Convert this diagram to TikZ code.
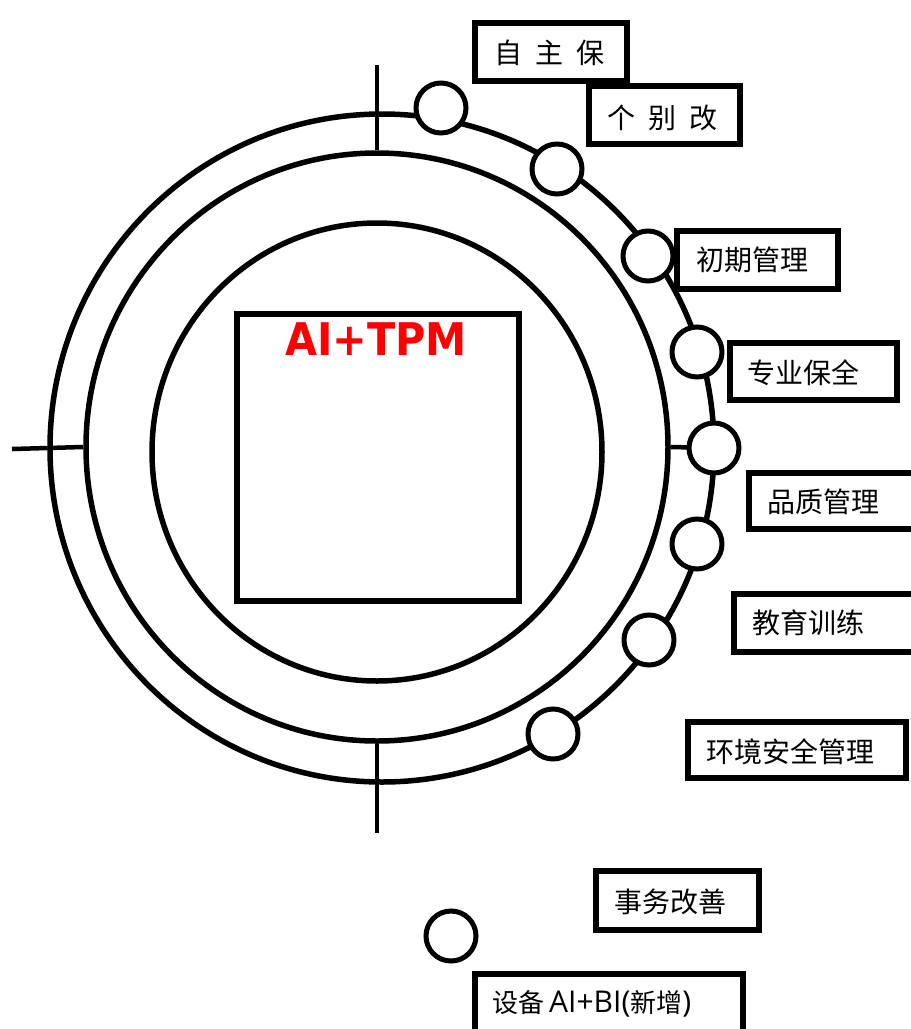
\documentclass[tikz,border=0pt]{standalone}
\usepackage{fontspec}
\usetikzlibrary{shapes.geometric}
\newfontfamily\cjk{Noto Sans CJK SC}
\newfontfamily\latinfont{Open Sans}
\newfontfamily\titlefont{DejaVu Sans}
\newcommand\widegap{\spaceskip 13pt\relax}
\newcommand\narrowgap{\spaceskip 5pt\relax}
\newcommand\latinpart{\latinfont\fontsize{30}{34}\selectfont}
\begin{document}
\begin{tikzpicture}[x=1pt,y=-1pt,
  ring/.style={draw, ellipse, line width=5.5pt, inner sep=0pt},
  dot/.style={draw, circle, fill=white, line width=5pt, minimum size=50pt, inner sep=0pt},
  tickline/.style={line width=4.5pt},
  box/.style={draw, fill=white, line width=6pt, inner sep=0pt, anchor=north west},
  lbl/.style={font=\cjk\fontsize{28}{32}\selectfont, inner sep=0pt, anchor=west},
  lblwide/.style={font=\cjk\fontsize{28}{32}\selectfont\widegap, inner sep=0pt, anchor=west}]
\useasboundingbox (0,0) rectangle (911,1029);
\clip (0,0) rectangle (911,1029);
% rings
\node[ring, minimum width=664pt, minimum height=668pt] (outer) at (382,448) {};
\node[ring, minimum width=582pt, minimum height=588pt] (mid) at (377,447) {};
\node[ring, minimum width=450pt, minimum height=458pt] (inner) at (377,452) {};
% tick ends
\coordinate (tTop) at (377,65);
\coordinate (tBot) at (377,833);
\coordinate (tLeft) at (12,449);
% small circles
\node[dot] (c1) at (441,108) {};
\node[dot] (c2) at (557,169) {};
\node[dot] (c3) at (648,256) {};
\node[dot] (c4) at (697,352) {};
\node[dot] (c6) at (697,544) {};
\node[dot] (c7) at (649,640) {};
\node[dot] (c8) at (553,734) {};
\node[dot] (c9) at (451,936) {};
% ticks
\draw[tickline] (mid.north) -- (tTop);
\draw[tickline] (mid.south) -- (tBot);
\draw[tickline] (mid.west) -- (tLeft);
\draw[tickline] (mid.east) -- (714,448);
\node[dot] (c5) at (714,448) {};
% central box
\node[draw, line width=6pt, minimum width=282pt, minimum height=287pt, inner sep=0pt] (core) at (378,457.5) {};
\node[font=\titlefont\bfseries\fontsize{45}{50}\selectfont, text=red, inner sep=0pt] (title) at (376,339.5) {\scalebox{0.92}[1]{AI+TPM}};
% boxes
\node[box, minimum width=152pt, minimum height=58pt] (b1) at (472,20) {};
\node[box, minimum width=151pt, minimum height=58pt] (b2) at (586,83) {};
\node[box, minimum width=161pt, minimum height=58pt] (b3) at (674,228) {};
\node[box, minimum width=167pt, minimum height=57pt] (b4) at (727,340) {};
\node[box, minimum width=200pt, minimum height=56pt] (b5) at (746,470) {};
\node[box, minimum width=200pt, minimum height=58pt] (b6) at (731,591) {};
\node[box, minimum width=218pt, minimum height=56pt] (b7) at (685,719) {};
\node[box, minimum width=163pt, minimum height=59pt] (b8) at (593,868) {};
\node[box, minimum width=268pt, minimum height=80pt] (b9) at (472,971) {};
% labels
\node[lblwide] (t1) at (494,53) {自 主 保};
\node[lblwide] (t2) at (607,118) {个 别 改};
\node[lbl] (t3) at (696,260) {初期管理};
\node[lbl] (t4) at (747,373) {专业保全};
\node[lbl] (t5) at (767,502) {品质管理};
\node[lbl] (t6) at (752,623) {教育训练};
\node[lbl] (t7) at (706,752) {环境安全管理};
\node[lbl] (t8) at (614,902) {事务改善};
\node[lbl, font=\cjk\fontsize{26}{30}\selectfont\narrowgap] (t9) at (492,1004) {设备 {\latinpart AI+BI(}新增{\latinpart )}};
\end{tikzpicture}
\end{document}
